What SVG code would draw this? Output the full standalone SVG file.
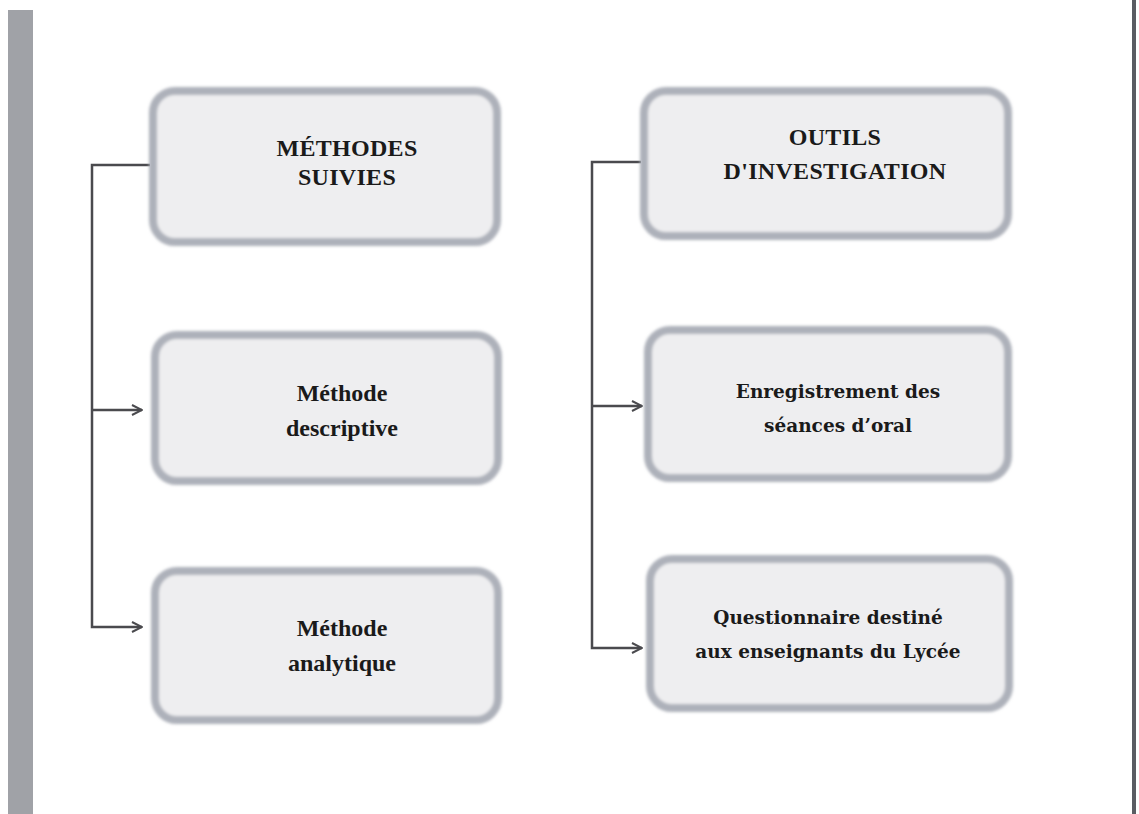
<svg xmlns="http://www.w3.org/2000/svg" width="1139" height="814" viewBox="0 0 1139 814">
<style>
.box{fill:#eeeef0;stroke:#adb1ba;stroke-width:8}
.bx{filter:url(#soft)}
.hd{font-family:"Liberation Serif","DejaVu Serif",serif;font-weight:bold;font-size:24px;fill:#1a1a1a;text-anchor:middle;letter-spacing:0.3px}
.t1{font-family:"Liberation Serif","DejaVu Serif",serif;font-weight:bold;font-size:24px;fill:#1a1a1a;text-anchor:middle}
.t2{font-family:"DejaVu Serif","Liberation Serif",serif;font-weight:bold;font-size:18.5px;fill:#1a1a1a;text-anchor:middle}
.ln{fill:none;stroke:#4a4a4e;stroke-width:2.5}
</style>
<defs>
<filter id="soft" x="-5%" y="-10%" width="110%" height="120%"><feGaussianBlur stdDeviation="1.6"/></filter>
<marker id="arr" viewBox="0 0 12 12" refX="11" refY="6" markerWidth="12" markerHeight="12" markerUnits="userSpaceOnUse" orient="auto">
<path d="M1,1 L11,6 L1,11" fill="none" stroke="#4a4a4e" stroke-width="2"/>
</marker>
</defs>
<rect width="1139" height="814" fill="#ffffff"/>
<rect x="8" y="10" width="25" height="804" fill="#a0a2a7"/>
<rect x="1132" y="0" width="4" height="814" fill="#5a5c62"/>
<g id="connectors">
<path class="ln" d="M150,165 H92 V410"/>
<path class="ln" d="M92,410 H142" marker-end="url(#arr)"/>
<path class="ln" d="M92,410 V627 H142" marker-end="url(#arr)"/>
<path class="ln" d="M641,162 H592 V406"/>
<path class="ln" d="M592,406 H642" marker-end="url(#arr)"/>
<path class="ln" d="M592,406 V648 H642" marker-end="url(#arr)"/>
</g>
<g id="n1"><rect class="box bx" x="153" y="91" width="344" height="151" rx="22"/>
<text class="hd" x="347" y="156">MÉTHODES</text><text class="hd" x="347" y="185">SUIVIES</text></g>
<g id="n2"><rect class="box bx" x="155" y="335" width="343" height="146" rx="22"/>
<text class="t1" x="342" y="401">Méthode</text><text class="t1" x="342" y="436">descriptive</text></g>
<g id="n3"><rect class="box bx" x="155" y="571" width="343" height="149" rx="22"/>
<text class="t1" x="342" y="636">Méthode</text><text class="t1" x="342" y="671">analytique</text></g>
<g id="n4"><rect class="box bx" x="644" y="91" width="364" height="145" rx="22"/>
<text class="hd" x="835" y="145">OUTILS</text><text class="hd" x="835" y="179">D'INVESTIGATION</text></g>
<g id="n5"><rect class="box bx" x="648" y="330" width="360" height="148" rx="22"/>
<text class="t2" x="838" y="398">Enregistrement des</text><text class="t2" x="838" y="432">séances d’oral</text></g>
<g id="n6"><rect class="box bx" x="650" y="559" width="359" height="149" rx="22"/>
<text class="t2" x="828" y="624">Questionnaire destiné</text><text class="t2" x="828" y="658">aux enseignants du Lycée</text></g>
</svg>
